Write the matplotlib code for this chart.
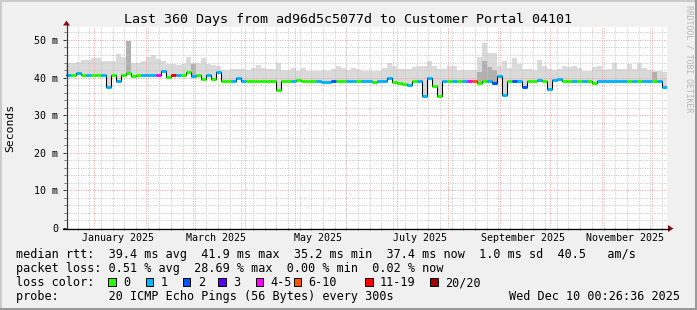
import datetime as dt
import matplotlib
matplotlib.use("Agg")
import matplotlib.pyplot as plt
import matplotlib.dates as mdates
from matplotlib.patches import Rectangle, Polygon
from matplotlib.ticker import FixedLocator, MultipleLocator, FuncFormatter

# ---------------- data ----------------
TITLE = "Last 360 Days from ad96d5c5077d to Customer Portal 04101"
END = dt.datetime(2025, 12, 10, 0, 26, 36)
SPAN_DAYS = 360
BIN_DAYS = 3

median_ms = [
    40.8, 40.8, 41.2, 40.8, 40.8, 40.8, 40.8, 40.8, 37.5, 40.8,
    39.2, 40.8, 41.3, 40.3, 40.7, 40.8, 40.8, 40.8, 40.8, 41.8,
    40.2, 40.8, 40.8, 40.8, 41.5, 40.3, 40.8, 39.5, 40.8, 39.6,
    41.5, 39.2, 39.2, 39.2, 39.9, 39.2, 39.2, 39.2, 39.2, 39.2,
    39.2, 39.2, 36.8, 39.1, 39.2, 39.2, 39.4, 39.2, 39.2, 39.2,
    39.2, 38.9, 38.9, 39.0, 39.2, 39.2, 39.2, 39.2, 39.2, 39.2,
    39.2, 38.7, 39.2, 39.2, 39.9, 38.8, 38.5, 38.4, 37.9, 39.1,
    39.2, 35.2, 39.8, 37.7, 35.2, 39.0, 39.2, 39.2, 39.2, 39.2,
    39.2, 39.2, 38.6, 39.2, 39.2, 38.5, 40.3, 35.3, 39.1, 39.0,
    39.1, 37.6, 39.0, 39.1, 39.4, 39.1, 36.9, 39.4, 39.5, 39.2,
    39.2, 39.2, 39.2, 39.2, 39.2, 38.6, 39.0, 39.0, 39.0, 39.0,
    39.0, 39.0, 39.0, 39.0, 39.0, 39.0, 39.0, 39.0, 39.0, 37.4,
]

smoke_top_ms = [
    44.0, 44.0, 44.2, 44.7, 44.7, 45.3, 45.2, 44.5, 44.3, 44.5,
    46.2, 45.5, 48.5, 44.0, 44.0, 44.3, 45.5, 46.0, 45.0, 44.5,
    43.6, 43.5, 43.3, 43.6, 45.5, 43.9, 44.0, 45.2, 43.5, 43.3,
    43.1, 42.0, 42.0, 42.2, 42.2, 42.2, 42.0, 42.5, 43.4, 42.6,
    42.2, 42.3, 44.0, 42.0, 42.0, 42.6, 41.8, 42.5, 41.7, 41.8,
    41.7, 42.0, 41.8, 42.2, 43.0, 42.6, 42.0, 42.5, 42.3, 41.7,
    41.7, 41.8, 41.7, 42.5, 43.8, 43.0, 42.2, 42.2, 42.4, 42.7,
    43.0, 43.0, 44.3, 43.0, 42.2, 42.2, 43.0, 43.2, 42.0, 41.9,
    41.9, 42.0, 45.6, 49.1, 46.5, 46.5, 43.0, 44.3, 42.5, 45.2,
    43.5, 42.2, 42.2, 42.0, 44.7, 43.0, 42.2, 42.0, 42.4, 43.0,
    42.8, 43.0, 42.5, 41.8, 41.7, 42.8, 43.0, 42.0, 42.2, 44.0,
    42.3, 42.2, 43.5, 42.4, 43.8, 42.5, 42.0, 41.7, 41.8, 41.5,
]

# index into loss_labels / loss_colors
loss_class = [
    1, 0, 1, 0, 1, 0, 0, 1, 1, 0,
    1, 0, 0, 0, 0, 1, 1, 1, 4, 1,
    0, 6, 1, 0, 0, 1, 0, 0, 1, 0,
    1, 0, 0, 1, 1, 1, 0, 0, 0, 0,
    0, 0, 0, 0, 0, 1, 0, 0, 0, 0,
    1, 1, 1, 2, 0, 0, 1, 1, 0, 1,
    1, 0, 1, 1, 1, 0, 0, 0, 1, 0,
    1, 1, 1, 0, 0, 1, 0, 1, 0, 1,
    4, 5, 0, 0, 1, 2, 1, 1, 0, 2,
    1, 2, 0, 0, 1, 0, 1, 1, 1, 0,
    0, 1, 0, 1, 0, 0, 1, 1, 1, 1,
    1, 1, 0, 1, 0, 1, 1, 0, 1, 1,
]

dark_bins = [12, 25, 82, 83, 84, 85, 117]
dark_top_ms = [49.8, 43.5, 41.5, 44.5, 42.8, 42.0, 41.6]

loss_labels = ["0", "1", "2", "3", "4-5", "6-10", "11-19", "20/20"]
loss_colors = ["#26ff00", "#00b8ff", "#0059ff", "#5e00ff", "#ff00ff",
               "#ff5500", "#ff0000", "#a10000"]

y_ticks = [0, 10, 20, 30, 40, 50]
label_months = [(2025, 1), (2025, 3), (2025, 5), (2025, 7), (2025, 9), (2025, 11)]

legend_rtt = "median rtt:  39.4 ms avg  41.9 ms max  35.2 ms min  37.4 ms now  1.0 ms sd  40.5   am/s"
legend_loss = "packet loss: 0.51 % avg  28.69 % max  0.00 % min  0.02 % now"
legend_color = "loss color:"
legend_probe = "probe:       20 ICMP Echo Pings (56 Bytes) every 300s"
stamp = "Wed Dec 10 00:26:36 2025"
watermark = "RRDTOOL / TOBI OETIKER"

# ---------------- layout ----------------
W, H = 697, 310
X0, X1, Y0, Y1 = 66, 667, 228, 27  # plot area in pixels
YMAX = 53.45
MONO = "DejaVu Sans Mono"
BG = "#f0f0f0"
MGRID = "#f4a0a0"
GRID = "#c6c6c6"

plt.rcParams["font.family"] = MONO
fig = plt.figure(figsize=(W / 100, H / 100), dpi=100, facecolor=BG)
ax = fig.add_axes([X0 / W, (H - Y0) / H, (X1 - X0) / W, (Y0 - Y1) / H])
ax.set_facecolor("white")

start = END - dt.timedelta(days=SPAN_DAYS)
edges = [mdates.date2num(start + dt.timedelta(days=BIN_DAYS * i))
         for i in range(len(median_ms) + 1)]
edges[-1] = mdates.date2num(END)

med_ext = median_ms + [median_ms[-1]]
top_ext = smoke_top_ms + [smoke_top_ms[-1]]
low_ext = [m - 0.4 for m in med_ext]

# smoke
ax.fill_between(edges, low_ext, top_ext, step="post", color="#dadada",
                linewidth=0, zorder=1)
for b, t in zip(dark_bins, dark_top_ms):
    ax.fill_between([edges[b], edges[b + 1]], [median_ms[b]] * 2, [t, t],
                    color="#b0b0b0", linewidth=0, zorder=1.2)

# median: black step line + coloured loss segments
ax.step(edges, med_ext, where="post", color="black", linewidth=0.75, zorder=3)
ax.hlines(median_ms, edges[:-1], edges[1:],
          colors=[loss_colors[c] for c in loss_class], linewidth=2.2, zorder=4)

ax.set_xlim(mdates.date2num(start), mdates.date2num(END))
ax.set_ylim(0, YMAX)

# grid
ax.set_axisbelow(False)
ax.yaxis.set_major_locator(FixedLocator(y_ticks))
ax.yaxis.set_minor_locator(MultipleLocator(2))
ax.yaxis.set_major_formatter(FuncFormatter(lambda v, p: "0" if v == 0 else f"{v:.0f} m"))
ax.xaxis.set_major_locator(FixedLocator(
    [mdates.date2num(dt.datetime(y, m, 15)) for y, m in label_months]))
ax.xaxis.set_major_formatter(mdates.DateFormatter("%B %Y"))
ax.xaxis.set_minor_locator(mdates.WeekdayLocator(byweekday=mdates.SU))

dots = (0, (1, 1.4))
gkw = dict(linestyle=dots, linewidth=0.72, snap=True)
ax.yaxis.grid(True, which="major", color=MGRID, zorder=2.5, **gkw)
ax.yaxis.grid(True, which="minor", color=GRID, zorder=2.4, **gkw)
ax.xaxis.grid(True, which="minor", color=GRID, zorder=2.4, **gkw)
ax.xaxis.grid(False, which="major")
month_lines = mdates.MonthLocator(bymonthday=1).tick_values(start, END)
vl = ax.vlines(month_lines, 0, YMAX, colors=MGRID, linestyles=dots, linewidth=0.72, zorder=2.5)
vl.set_snap(True)

ax.tick_params(axis="x", which="major", length=0, pad=3.4, labelsize=7.2)
ax.tick_params(axis="x", which="minor", length=1.5, width=0.6, color="#555555")
ax.tick_params(axis="y", which="major", length=2.2, width=0.72, pad=3.4, labelsize=7.2,
               color="#333333")
ax.tick_params(axis="y", which="minor", length=1.5, width=0.6, color="#555555")
for s in ax.spines.values():
    s.set_visible(False)

# ---------------- overlay (pixel coordinates) ----------------
ov = fig.add_axes([0, 0, 1, 1], zorder=5)
ov.set_xlim(0, W)
ov.set_ylim(H, 0)
ov.axis("off")

# border
ov.plot([0, W], [1, 1], color="#cbcbcb", lw=1.44, solid_capstyle="butt")
ov.plot([1, 1], [0, H], color="#cbcbcb", lw=1.44, solid_capstyle="butt")
ov.plot([0, W], [H - 1, H - 1], color="#999999", lw=1.44, solid_capstyle="butt")
ov.plot([W - 1, W - 1], [0, H], color="#999999", lw=1.44, solid_capstyle="butt")

# axes with arrows
ov.plot([X0 + 0.5, X0 + 0.5], [Y0 + 0.5, 24], color="#333333", lw=0.9)
ov.plot([X0 - 3, 669], [Y0 + 0.5, Y0 + 0.5], color="black", lw=0.9)
ov.add_patch(Polygon([[X0 - 3, 25.5], [X0 + 4, 25.5], [X0 + 0.5, 20.5]],
                     closed=True, color="#8b1010", lw=0))
ov.add_patch(Polygon([[668, Y0 - 3], [668, Y0 + 4], [673.5, Y0 + 0.5]],
                     closed=True, color="#8b1010", lw=0))

# title, axis label, watermark
ov.text(348, 23, TITLE, ha="center", va="baseline", fontsize=9.6)
ov.text(10, (Y0 + Y1) / 2, "Seconds", rotation=90, ha="center", va="center", fontsize=8.2)
ov.text(689, 5, watermark, rotation=270, ha="center", va="top", fontsize=5.9,
        color="#b5b5b5")

# legend
LX = 15.5
ov.text(LX, 258, legend_rtt, ha="left", va="baseline", fontsize=8.5)
ov.text(LX, 272, legend_loss, ha="left", va="baseline", fontsize=8.5)
ov.text(LX, 286, legend_color, ha="left", va="baseline", fontsize=8.5)
ov.text(LX, 300, legend_probe, ha="left", va="baseline", fontsize=8.5)
ov.text(680, 300, stamp, ha="right", va="baseline", fontsize=8.5)

box_x = [108, 145.7, 182.7, 218.3, 255.7, 293.5, 365, 430]
for bx, lab, col in zip(box_x, loss_labels, loss_colors):
    ov.add_patch(Rectangle((bx, 278), 7.5, 7.5, facecolor=col, edgecolor="black", lw=0.7))
    ov.text(bx + 15, 286, lab, ha="left", va="baseline", fontsize=8.5)

fig.savefig("out.png", dpi=100, facecolor=BG)
